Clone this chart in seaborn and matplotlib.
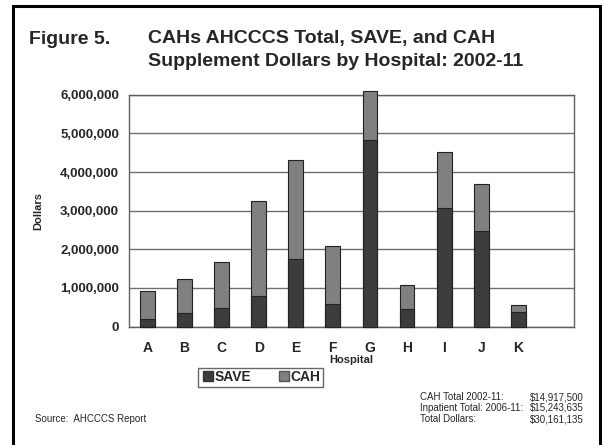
import numpy as np
import pandas as pd
import seaborn as sns
import matplotlib.pyplot as plt
from matplotlib.patches import Rectangle
from matplotlib.lines import Line2D
from matplotlib.ticker import FuncFormatter, FixedLocator

hospitals = ['A', 'B', 'C', 'D', 'E', 'F', 'G', 'H', 'I', 'J', 'K']
save = [190000, 360000, 480000, 800000, 1750000, 590000, 4820000, 450000, 3060000, 2480000, 370000]
cah = [726000, 866000, 1200000, 2450000, 2550000, 1500000, 1270000, 630000, 1470000, 1210000, 180000]
y_ticks = [0, 1000000, 2000000, 3000000, 4000000, 5000000, 6000000]
note_labels = ['CAH Total 2002-11:', 'Inpatient Total: 2006-11:', 'Total Dollars:']
note_values = ['$14,917,500', '$15,243,635', '$30,161,135']

save_color = '#3c3c3c'
cah_color = '#808080'

df = pd.DataFrame({'hospital': hospitals, 'SAVE': save, 'CAH': cah})
df['total'] = df['SAVE'] + df['CAH']

sns.set_style('white')
plt.rcParams['font.family'] = ['Liberation Sans', 'DejaVu Sans']

fig = plt.figure(figsize=(6.02, 4.45), dpi=100)
ax = fig.add_axes([0.214, 0.266, 0.7395, 0.521])

sns.barplot(data=df, x='hospital', y='total', color=cah_color, width=0.4,
            edgecolor='#222222', linewidth=0.8, saturation=1, ax=ax)
sns.barplot(data=df, x='hospital', y='SAVE', color=save_color, width=0.4,
            edgecolor='#222222', linewidth=0.8, saturation=1, ax=ax)
for p in ax.patches:
    p.set_clip_on(False)
    p.set_zorder(3)

ax.set_xlim(-0.5, 11.5)
ax.set_ylim(0, 6000000)
ax.yaxis.set_major_locator(FixedLocator(y_ticks))
ax.yaxis.set_major_formatter(FuncFormatter(lambda v, pos: f'{int(v):,}'))
ax.grid(axis='y', color='#707070', linewidth=1.0, zorder=0)
ax.set_axisbelow(True)

for s in ax.spines.values():
    s.set_color('#606060')
    s.set_linewidth(1.0)

ax.set_xticks(range(len(hospitals)))
ax.set_xticklabels(hospitals, fontsize=10, fontweight='bold')
ax.set_xticks(np.arange(-0.5, 12, 1), minor=True)
ax.tick_params(axis='x', which='major', length=0, pad=10)
ax.tick_params(axis='x', which='minor', length=4, direction='out', color='#404040')
ax.tick_params(axis='y', length=4, direction='out', color='#404040', labelsize=9.5, pad=3)
for lab in ax.get_yticklabels():
    lab.set_fontweight('bold')

ax.set_xlabel('Hospital', fontsize=8, fontweight='bold', labelpad=0)
ax.set_ylabel('Dollars', fontsize=8, fontweight='bold', labelpad=12)

handles = [Line2D([], [], marker='s', linestyle='', markersize=7, markerfacecolor=save_color,
                  markeredgecolor='#333333', label='SAVE'),
           Line2D([], [], marker='s', linestyle='', markersize=7, markerfacecolor=cah_color,
                  markeredgecolor='#555555', label='CAH')]
leg = fig.legend(handles=handles, ncol=2, loc='center', bbox_to_anchor=(0.433, 0.152),
                 frameon=True, fancybox=False, prop={'size': 10, 'weight': 'bold'},
                 handletextpad=0.0, columnspacing=1.8, borderpad=0.2, handlelength=1.0)
leg.get_frame().set_edgecolor('#404040')
leg.get_frame().set_linewidth(1.0)

fig.text(29 / 602, 1 - 39 / 445, 'Figure 5.', fontsize=14, fontweight='bold', va='center')
fig.text(148 / 602, 1 - 39 / 445, 'CAHs AHCCCS Total, SAVE, and CAH', fontsize=14,
         fontweight='bold', va='center')
fig.text(148 / 602, 1 - 61 / 445, 'Supplement Dollars by Hospital: 2002-11', fontsize=14,
         fontweight='bold', va='center')

for i, (lab, val) in enumerate(zip(note_labels, note_values)):
    y = 1 - (397 + i * 11) / 445
    fig.text(420 / 602, y, lab, fontsize=7, va='center')
    fig.text(530 / 602, y, val, fontsize=7, va='center')
fig.text(35 / 602, 1 - 419 / 445, 'Source:  AHCCCS Report', fontsize=7, va='center')

fig.patches.append(Rectangle((13 / 602, -0.05), (600 - 13) / 602, 1.05 - 6 / 445,
                             transform=fig.transFigure, fill=False, edgecolor='black',
                             linewidth=2.2, clip_on=False))

fig.savefig('out.png', dpi=100)
